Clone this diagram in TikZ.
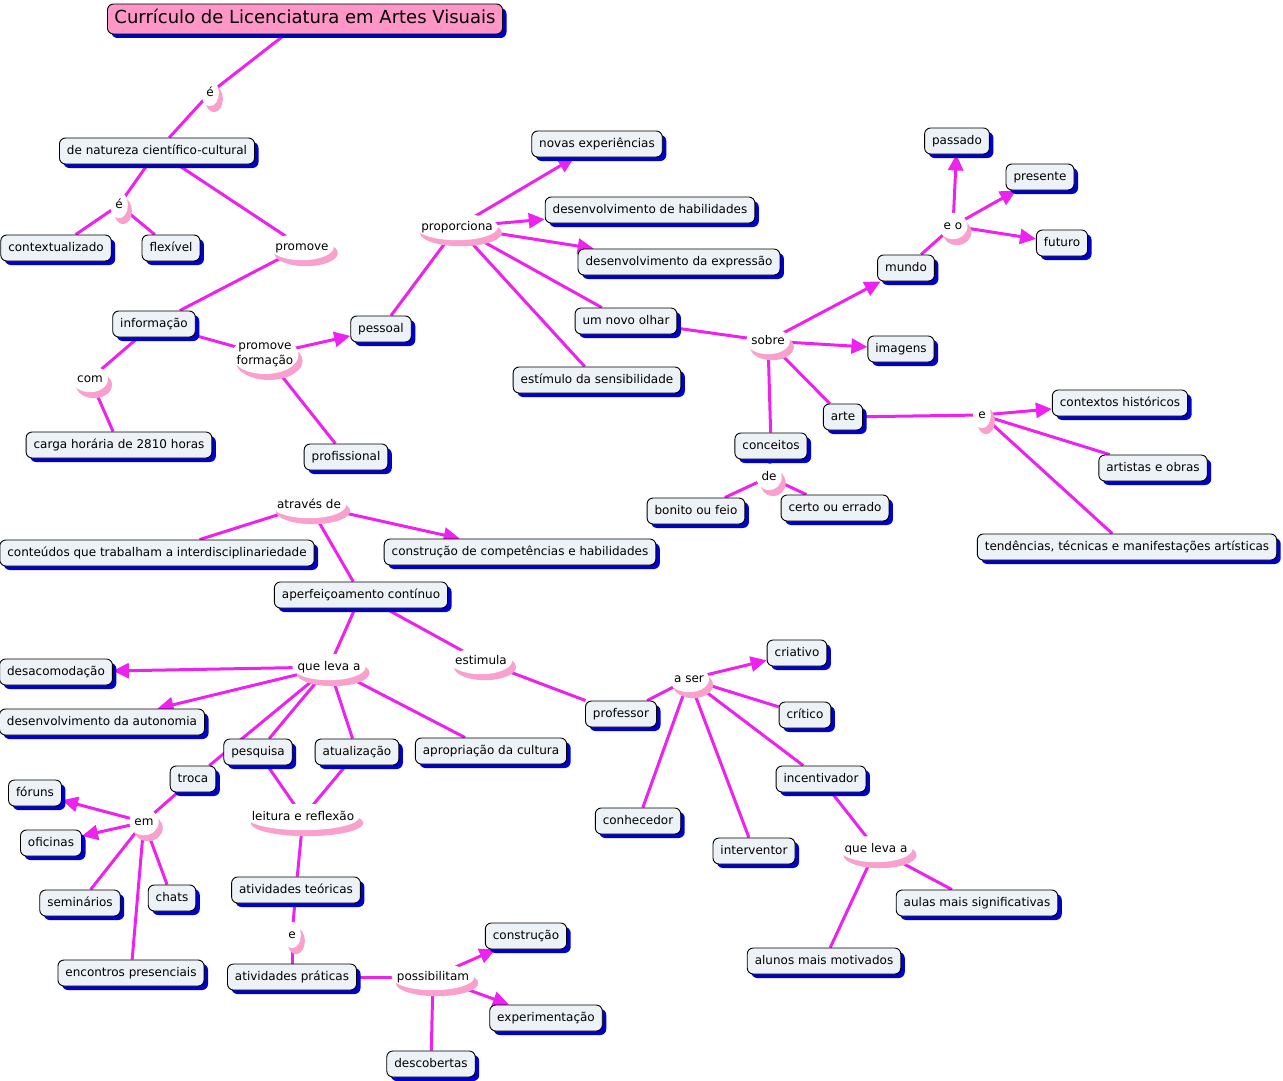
\documentclass[tikz,border=0pt]{standalone}
\usepackage{fontspec}
\setmainfont{DejaVu Sans}
\usetikzlibrary{calc,shadows,arrows.meta,shapes.geometric}
\definecolor{lnk}{RGB}{238,34,238}
\definecolor{swp}{RGB}{250,160,205}
\definecolor{shb}{RGB}{0,0,205}
\definecolor{boxf}{RGB}{237,242,246}
\definecolor{titf}{RGB}{255,150,200}
\pgfdeclarelayer{bg}\pgfdeclarelayer{mid}\pgfsetlayers{bg,mid,main}
\newcommand\fs{\fontsize{12}{14.5}\selectfont}
\tikzset{
 cbox/.style={draw=black, line width=0.9pt, fill=boxf, rounded corners=6pt, font=\fs,
   inner xsep=7.5pt, inner ysep=0pt, minimum height=26pt, text height=9pt, text depth=3pt,
   drop shadow={shadow xshift=4pt, shadow yshift=-4pt, opacity=1, fill=shb}},
 tbox/.style={cbox, fill=titf, font=\fontsize{18}{21}\selectfont, minimum height=30pt,
   text height=13pt, text depth=4pt, inner xsep=7pt},
 lbl/.style={font=\fs, inner sep=1pt, text height=9pt, text depth=3pt},
 lbltwo/.style={font=\fs, inner sep=1pt, align=center},
 cn/.style={draw=lnk, line width=3pt},
 ar/.style={cn, -{Triangle[length=16pt,width=15pt]}},
}
\newcommand\lk[4][lbl]{%
 \node[#1] (#2) at (#3) {#4};
 \begin{pgfonlayer}{mid}
 \path let \p1=($(#2.north east)-(#2.south west)$) in
  ($(#2.center)+(4,6)$) node[fill=swp, ellipse, inner sep=0pt, minimum width=\x1+8pt, minimum height=\y1+12pt]{}
  (#2.center) node[fill=white, ellipse, inner sep=0pt, minimum width=\x1+8pt, minimum height=\y1+12pt]{};
 \end{pgfonlayer}}
\begin{document}
\begin{tikzpicture}[x=1pt,y=-1pt]
\useasboundingbox (0,-2) rectangle (1283,1079);
\begin{pgfonlayer}{bg}
\fill[white] (0,-2) rectangle (1283,1079);
\end{pgfonlayer}
% concepts
\node[tbox] (title) at (305,17) {Currículo de Licenciatura em Artes Visuais};
\node[cbox] (nat) at (157,149) {de natureza científico-cultural};
\node[cbox] (ctx) at (56,246) {contextualizado};
\node[cbox] (flex) at (171,246) {flexível};
\node[cbox] (info) at (154,322) {informação};
\node[cbox] (carga) at (119,443) {carga horária de 2810 horas};
\node[cbox] (pess) at (381,327) {pessoal};
\node[cbox] (prof) at (346,455) {profissional};
\node[cbox] (novas) at (597,142) {novas experiências};
\node[cbox] (dhab) at (650,208) {desenvolvimento de habilidades};
\node[cbox] (dexp) at (679,260) {desenvolvimento da expressão};
\node[cbox] (olhar) at (626,319) {um novo olhar};
\node[cbox] (estim) at (597,378) {estímulo da sensibilidade};
\node[cbox] (mundo) at (906,266) {mundo};
\node[cbox] (passado) at (957,139) {passado};
\node[cbox] (presente) at (1040,175) {presente};
\node[cbox] (futuro) at (1062,241) {futuro};
\node[cbox] (imagens) at (901,347) {imagens};
\node[cbox] (arte) at (843,415) {arte};
\node[cbox] (ctxh) at (1120,401) {contextos históricos};
\node[cbox] (artistas) at (1153,466) {artistas e obras};
\node[cbox] (tend) at (1127,545) {tendências, técnicas e manifestações artísticas};
\node[cbox] (conc) at (771,444) {conceitos};
\node[cbox] (bonito) at (696,509) {bonito ou feio};
\node[cbox] (certo) at (835,506) {certo ou errado};
\node[cbox] (cont) at (157,551) {conteúdos que trabalham a interdisciplinariedade};
\node[cbox] (comp) at (520,550) {construção de competências e habilidades};
\node[cbox] (aperf) at (361,593) {aperfeiçoamento contínuo};
\node[cbox] (desac) at (56,670) {desacomodação};
\node[cbox] (auton) at (102,720) {desenvolvimento da autonomia};
\node[cbox] (pesq) at (258,750) {pesquisa};
\node[cbox] (atual) at (357,750) {atualização};
\node[cbox] (aprop) at (491,749) {apropriação da cultura};
\node[cbox] (troca) at (193,777) {troca};
\node[cbox] (foruns) at (35,791) {fóruns};
\node[cbox] (ofic) at (51,841) {oficinas};
\node[cbox] (semin) at (80,901) {seminários};
\node[cbox] (chats) at (172,896) {chats};
\node[cbox] (encon) at (131,971) {encontros presenciais};
\node[cbox] (ateor) at (296,888) {atividades teóricas};
\node[cbox] (aprat) at (292,975) {atividades práticas};
\node[cbox] (constru) at (526,934) {construção};
\node[cbox] (exper) at (546,1016) {experimentação};
\node[cbox] (descob) at (431,1062) {descobertas};
\node[cbox] (profr) at (621,712) {professor};
\node[cbox] (criat) at (797,651) {criativo};
\node[cbox] (crit) at (805,713) {crítico};
\node[cbox] (incent) at (821,777) {incentivador};
\node[cbox] (conhec) at (638,819) {conhecedor};
\node[cbox] (interv) at (754,849) {interventor};
\node[cbox] (aulas) at (977,901) {aulas mais significativas};
\node[cbox] (alunos) at (824,959) {alunos mais motivados};
% linking phrases
\lk{l1}{210,91}{é}
\lk{l2}{119,203}{é}
\lk{l3}{302,245}{promove}
\lk{l4}{90,377}{com}
\lk[lbltwo]{l5}{265,353}{promove\\formação}
\lk{l6}{457,225}{proporciona}
\lk{l7}{768,339}{sobre}
\lk{l8}{953,224}{e o}
\lk{l9}{982,413}{e}
\lk{l10}{769,475}{de}
\lk{l11}{309,503}{através de}
\lk{l12}{329,665}{que leva a}
\lk{l13}{481,659}{estimula}
\lk{l14}{689,677}{a ser}
\lk{l15}{876,847}{que leva a}
\lk{l16}{144,820}{em}
\lk{l17}{303,815}{leitura e reflexão}
\lk{l18}{292,933}{e}
\lk{l19}{433,975}{possibilitam}
% connectors
\begin{pgfonlayer}{bg}
\draw[cn] (title) -- (l1);
\draw[cn] (l1) -- (nat);
\draw[cn] (nat) -- (l2);
\draw[cn] (l2) -- (ctx);
\draw[cn] (l2) -- (flex);
\draw[cn] (nat) -- (l3);
\draw[cn] (l3) -- (info);
\draw[cn] (info) -- (l4);
\draw[cn] (l4) -- (carga);
\draw[cn] (info) -- (l5);
\draw[ar] (l5) -- (pess);
\draw[cn] (l5) -- (prof);
\draw[cn] (pess) -- (l6);
\draw[ar] (l6) -- (novas);
\draw[ar] (l6) -- (dhab);
\draw[ar] (l6) -- (dexp);
\draw[cn] (l6) -- (olhar);
\draw[cn] (l6) -- (estim);
\draw[cn] (olhar) -- (l7);
\draw[ar] (l7) -- (mundo);
\draw[ar] (l7) -- (imagens);
\draw[cn] (l7) -- (arte);
\draw[cn] (l7) -- (conc);
\draw[cn] (mundo) -- (l8);
\draw[ar] (l8) -- (passado);
\draw[ar] (l8) -- (presente);
\draw[ar] (l8) -- (futuro);
\draw[cn] (arte) -- (l9);
\draw[ar] (l9) -- (ctxh);
\draw[cn] (l9) -- (artistas);
\draw[cn] (l9) -- (tend);
\draw[cn] (conc) -- (l10);
\draw[cn] (l10) -- (bonito);
\draw[cn] (l10) -- (certo);
\draw[cn] (aperf) -- (l11);
\draw[cn] (l11) -- (cont);
\draw[ar] (l11) -- (comp);
\draw[cn] (aperf) -- (l12);
\draw[ar] (l12) -- (desac);
\draw[ar] (l12) -- (auton);
\draw[cn] (l12) -- (troca);
\draw[cn] (l12) -- (pesq);
\draw[cn] (l12) -- (atual);
\draw[cn] (l12) -- (aprop);
\draw[cn] (aperf) -- (l13);
\draw[cn] (l13) -- (profr);
\draw[cn] (profr) -- (l14);
\draw[ar] (l14) -- (criat);
\draw[cn] (l14) -- (crit);
\draw[cn] (l14) -- (incent);
\draw[cn] (l14) -- (conhec);
\draw[cn] (l14) -- (interv);
\draw[cn] (incent) -- (l15);
\draw[cn] (l15) -- (aulas);
\draw[cn] (l15) -- (alunos);
\draw[cn] (troca) -- (l16);
\draw[ar] (l16) -- (foruns);
\draw[ar] (l16) -- (ofic);
\draw[cn] (l16) -- (semin);
\draw[cn] (l16) -- (chats);
\draw[cn] (l16) -- (encon);
\draw[cn] (pesq) -- (l17);
\draw[cn] (atual) -- (l17);
\draw[cn] (l17) -- (ateor);
\draw[cn] (ateor) -- (l18);
\draw[cn] (l18) -- (aprat);
\draw[cn] (aprat) -- (l19);
\draw[ar] (l19) -- (constru);
\draw[ar] (l19) -- (exper);
\draw[cn] (l19) -- (descob);
\end{pgfonlayer}
\end{tikzpicture}
\end{document}
